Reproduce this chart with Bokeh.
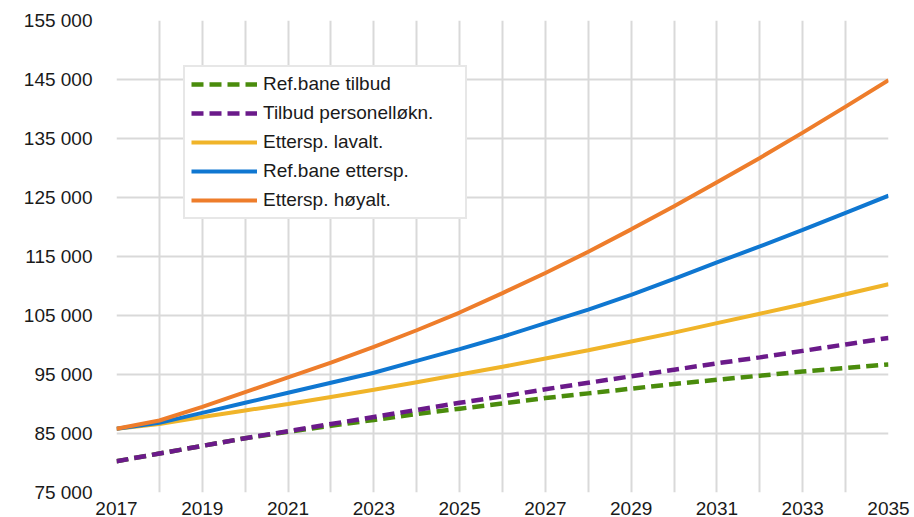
from bokeh.plotting import figure
from bokeh.models import FixedTicker, Range1d, Legend, LegendItem
from bokeh.embed import file_html
from bokeh.resources import INLINE

years = list(range(2017, 2036))
ref_tilbud = [80300, 81600, 82900, 84200, 85300, 86300, 87300, 88300, 89200, 90100,
              91000, 91800, 92600, 93400, 94100, 94800, 95500, 96100, 96700]
tilbud_person = [80300, 81600, 82900, 84200, 85400, 86600, 87800, 89000, 90200, 91300,
                 92500, 93600, 94700, 95800, 96900, 97900, 99000, 100100, 101200]
ettersp_lav = [85800, 86600, 87800, 88900, 90000, 91200, 92400, 93700, 95000, 96300,
               97700, 99100, 100600, 102100, 103700, 105300, 106900, 108600, 110300]
ref_ettersp = [85800, 86800, 88500, 90200, 91900, 93600, 95300, 97300, 99300, 101400,
               103700, 106000, 108500, 111200, 114000, 116700, 119500, 122400, 125300]
ettersp_hoy = [85800, 87200, 89500, 92000, 94500, 97000, 99700, 102500, 105500, 108800,
               112200, 115800, 119600, 123500, 127600, 131700, 136000, 140400, 144900]

series_names = ["Ref.bane tilbud", "Tilbud personelløkn.", "Ettersp. lavalt.",
                "Ref.bane ettersp.", "Ettersp. høyalt."]
y_ticks = list(range(75000, 155001, 10000))
x_label_ticks = list(range(2017, 2036, 2))

p = figure(width=914, height=517, output_backend="svg", toolbar_location=None,
           x_range=Range1d(2017, 2035), y_range=Range1d(75000, 155000),
           min_border_left=116, min_border_right=26, min_border_top=20, min_border_bottom=25)
p.outline_line_color = None
p.background_fill_color = "white"
p.border_fill_color = "white"

font = "Liberation Sans"
for ax in (p.xaxis[0], p.yaxis[0]):
    ax.axis_line_color = None
    ax.major_tick_line_color = None
    ax.minor_tick_line_color = None
    ax.major_label_text_font = font
    ax.major_label_text_font_size = "19px"
    ax.major_label_text_color = "#1a1a1a"

p.yaxis.ticker = FixedTicker(ticks=y_ticks)
p.yaxis.major_label_overrides = {t: f"{t:,}".replace(",", " ") for t in y_ticks}
p.yaxis.major_label_standoff = 18
p.xaxis.ticker = FixedTicker(ticks=x_label_ticks)
p.xaxis.major_label_standoff = 3

p.xgrid.ticker = FixedTicker(ticks=years)
p.ygrid.ticker = FixedTicker(ticks=y_ticks)
for g in (p.xgrid[0], p.ygrid[0]):
    g.grid_line_color = "#d9d9d9"
    g.grid_line_width = 2

r1 = p.line(years, ref_tilbud, line_color="#4a8c0c", line_width=4.5, line_dash="12 6")
r2 = p.line(years, tilbud_person, line_color="#6b1a8a", line_width=4.5, line_dash="12 6")
r3 = p.line(years, ettersp_lav, line_color="#f0b429", line_width=4)
r4 = p.line(years, ref_ettersp, line_color="#0f77d1", line_width=4)
r5 = p.line(years, ettersp_hoy, line_color="#ee7d2b", line_width=4)

legend = Legend(items=[LegendItem(label=n, renderers=[r]) for n, r in
                       zip(series_names, [r1, r2, r3, r4, r5])],
                location=(67, 273))
legend.label_text_font = font
legend.label_text_font_size = "19px"
legend.label_text_color = "#1a1a1a"
legend.glyph_width = 66
legend.glyph_height = 22
legend.label_height = 22
legend.label_width = 196
legend.spacing = 7
legend.padding = 6
legend.margin = 0
legend.label_standoff = 6
legend.border_line_color = "#d0d0d0"
legend.border_line_width = 2
legend.background_fill_alpha = 1
p.add_layout(legend, "center")

open("out.html", "w").write(file_html(p, INLINE))
